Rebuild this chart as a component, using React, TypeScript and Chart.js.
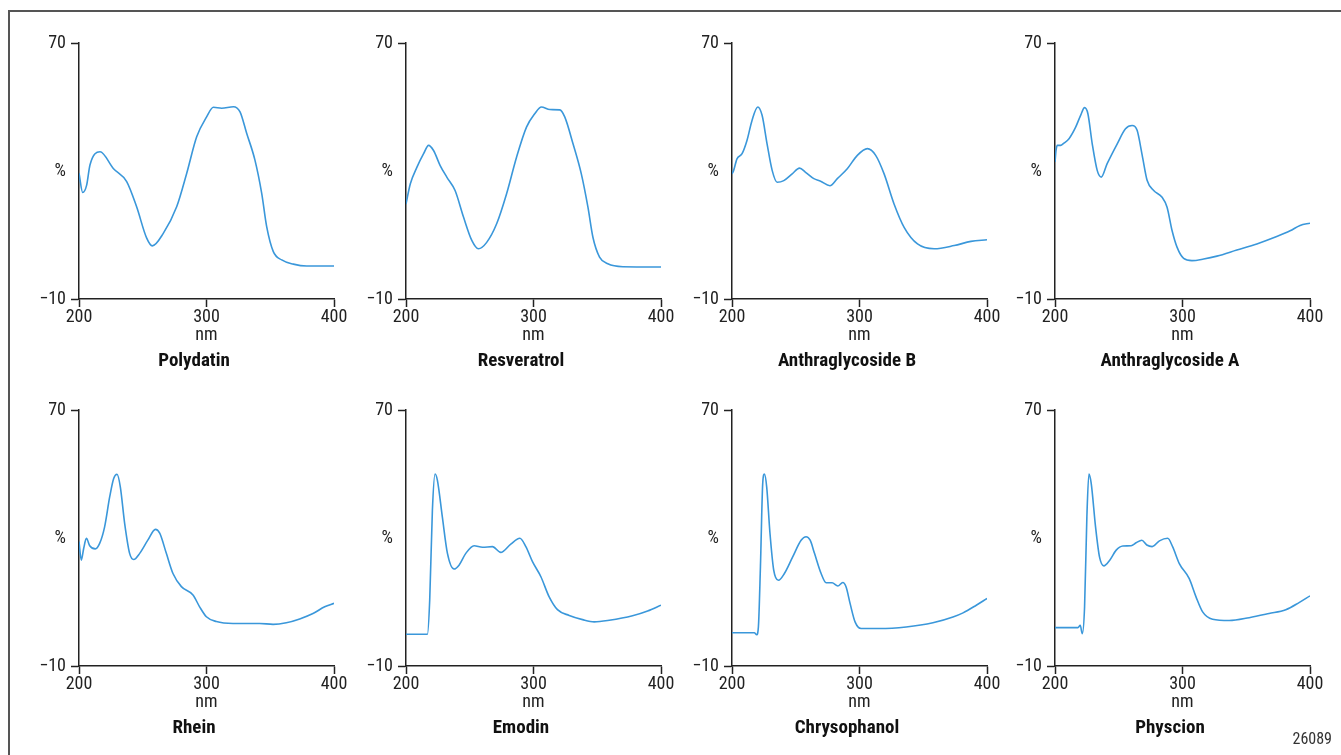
import React, { useEffect, useRef } from "react";
import { Chart, registerables } from "chart.js";

Chart.register(...registerables);

// ---- data ----
const compoundNames = [
  "Polydatin", "Resveratrol", "Anthraglycoside B", "Anthraglycoside A",
  "Rhein", "Emodin", "Chrysophanol", "Physcion",
];

const polydatinNm = [200, 202.9, 206, 208.6, 216.5, 226.9, 237.4, 245.2, 253.1, 257.5, 266.1, 276.6, 284.5, 292.3, 300.2, 305.4, 311.9, 321.1, 326.3, 331.5, 338, 343.3, 347.2, 352.4, 359, 368.1, 378.6, 400];
const polydatinPct = [29.3, 23.3, 25.6, 31.9, 36.0, 30.8, 26.7, 18.8, 9.0, 6.6, 10.5, 18.8, 29.3, 40.7, 47.0, 49.9, 49.6, 50.1, 48.5, 41.8, 33.4, 23.0, 12.6, 4.8, 2.2, 0.9, 0.3, 0.3];

const resveratrolNm = [200, 203.4, 208.6, 213.8, 217.7, 221.6, 226.8, 232.0, 238.5, 245.1, 251.6, 256.8, 263.3, 271.1, 278.9, 286.7, 294.5, 301.0, 306.2, 312.8, 320.6, 324.5, 331.0, 337.5, 342.7, 346.6, 351.8, 358.3, 370.1, 400];
const resveratrolPct = [19.7, 26.0, 31.2, 35.4, 38.0, 36.4, 31.7, 28.1, 23.9, 15.6, 8.3, 5.7, 7.7, 13.5, 22.9, 34.3, 43.7, 47.9, 50.0, 49.2, 49.1, 46.9, 38.5, 29.1, 18.7, 9.3, 3.1, 1.0, 0.1, 0.0];

const anthraBNm = [200, 201.3, 203.9, 207.9, 211.8, 215.7, 220.2, 223.6, 227.5, 231.5, 235.4, 240.6, 247.2, 253.0, 257.7, 264.2, 269.5, 276.8, 282.6, 290.4, 298.3, 306.2, 312.7, 319.3, 327.1, 335.0, 345.5, 358.6, 374.3, 387.4, 400];
const anthraBPct = [29.1, 30.2, 33.8, 35.4, 39.6, 45.8, 50.0, 47.4, 38.5, 30.2, 26.5, 27.0, 29.1, 30.9, 29.6, 27.6, 26.8, 25.4, 27.6, 30.7, 34.9, 37.0, 34.9, 29.1, 19.7, 12.4, 7.2, 5.7, 6.7, 8.0, 8.5];

const anthraANm = [200, 200.8, 201.8, 204.4, 207.0, 211.0, 216.2, 220.1, 223.2, 225.8, 229.2, 233.1, 236.3, 240.9, 248.8, 255.3, 260.5, 264.4, 268.4, 272.3, 277.4, 284.0, 287.9, 291.8, 295.7, 300.9, 307.4, 316.6, 327.0, 342.6, 358.3, 373.9, 384.4, 392.2, 400];
const anthraAPct = [32.8, 36.4, 38.0, 38.0, 38.7, 40.1, 43.7, 47.4, 49.8, 47.9, 38.5, 30.2, 28.1, 32.3, 38.5, 43.2, 44.2, 42.7, 34.9, 27.0, 23.9, 21.8, 18.7, 11.4, 6.2, 2.7, 2.0, 2.5, 3.4, 5.3, 7.2, 9.5, 11.3, 13.0, 13.7];

const rheinNm = [200, 201.8, 203.7, 205.8, 208.4, 212.8, 216.2, 220.1, 224.1, 227.2, 229.8, 232.4, 235.8, 239.7, 242.9, 247.6, 254.1, 259.9, 263.3, 268.5, 273.7, 280.3, 289.4, 294.6, 299.9, 307.7, 320.8, 341.7, 352.2, 362.6, 373.1, 383.5, 392.7, 400];
const rheinPct = [28.9, 23.1, 26.8, 29.9, 27.6, 26.6, 28.3, 33.5, 42.9, 48.6, 49.9, 46.0, 34.6, 25.2, 23.3, 25.2, 29.4, 32.7, 31.5, 25.2, 18.9, 14.8, 12.2, 8.5, 5.4, 3.9, 3.3, 3.3, 3.0, 3.5, 4.7, 6.4, 8.5, 9.6];

const emodinNm = [200, 216.8, 218.6, 220.7, 222.8, 224.6, 228.5, 232.5, 237.7, 241.6, 246.9, 253.4, 260.0, 267.8, 274.3, 282.2, 289.3, 294.0, 299.2, 305.8, 312.3, 318.8, 328.0, 338.5, 347.6, 359.4, 377.7, 389.5, 400];
const emodinPct = [-0.1, -0.1, 10.6, 38.7, 50.0, 48.1, 36.6, 25.2, 20.3, 21.5, 25.2, 27.6, 27.1, 27.3, 25.5, 28.1, 29.9, 27.3, 22.6, 17.9, 11.6, 7.6, 5.8, 4.5, 3.8, 4.3, 5.7, 7.2, 9.0];

const chrysophanolNm = [200, 217.5, 219.4, 220.7, 222.3, 224.1, 225.4, 227.2, 229.8, 232.7, 236.4, 241.1, 247.6, 254.2, 258.1, 261.3, 264.7, 269.9, 273.8, 278.5, 283.0, 286.9, 289.5, 292.7, 296.6, 301.3, 315.7, 336.6, 357.6, 373.3, 381.2, 391.6, 400];
const chrysophanolPct = [0.4, 0.4, -0.2, 2.2, 21.0, 47.1, 50.0, 46.0, 31.4, 20.0, 16.8, 18.9, 24.1, 29.3, 30.4, 29.3, 25.2, 18.9, 16.0, 16.0, 15.0, 16.1, 14.7, 9.4, 3.7, 1.7, 1.7, 2.2, 3.5, 5.3, 6.6, 9.0, 11.1];

const physcionNm = [200, 218.0, 219.8, 221.4, 223.2, 225.0, 226.6, 228.4, 231.8, 234.9, 238.3, 242.8, 248.0, 253.2, 259.7, 263.6, 268.1, 272.0, 276.2, 281.9, 288.4, 292.3, 297.5, 305.3, 310.6, 315.8, 323.6, 336.6, 352.3, 367.9, 381.0, 391.4, 400];
const physcionPct = [2.0, 2.0, 2.7, 0.1, 8.5, 36.6, 50.0, 47.1, 33.5, 24.1, 21.3, 23.0, 26.2, 27.5, 27.6, 28.5, 29.3, 27.8, 27.3, 29.1, 29.9, 27.2, 22.0, 17.3, 11.6, 6.9, 4.6, 4.2, 5.1, 6.4, 7.6, 9.8, 11.9];

const xTickValues = [200, 300, 400];
const xTickLabels = ["200", "300", "400"];
const yTickValues = [-10, 30, 70];
const yTickLabels = ["\u221210", "%", "70"];
const xAxisTitle = "nm";
const figureCode = "26089";

const seriesNm = [polydatinNm, resveratrolNm, anthraBNm, anthraANm, rheinNm, emodinNm, chrysophanolNm, physcionNm];
const seriesPct = [polydatinPct, resveratrolPct, anthraBPct, anthraAPct, rheinPct, emodinPct, chrysophanolPct, physcionPct];

// ---- layout ----
const axisLefts = [79, 406, 732, 1055];
const axisTops = [43, 410];
const PAD_L = 10;
const Y_W = 45;
const PLOT_W = 255;
const PLOT_H = 256;
const PAD_R = 20;
const PAD_T = 20;
const X_H = 47;
const TITLE_H = 30;
const TITLE_DX = 115; // title centre, from the y axis
const TITLE_DY = 62; // title middle, below the x axis
const CANVAS_W = PAD_L + Y_W + PLOT_W + PAD_R;
const CANVAS_H = PAD_T + PLOT_H + X_H + TITLE_H;

const FONT = "'Liberation Sans Narrow', 'Arial Narrow', 'Roboto Condensed', 'DejaVu Sans Condensed', 'Liberation Sans', sans-serif";
const LINE_COLOR = "#3a97da";
const AXIS_COLOR = "#222";
const TEXT_COLOR = "#222";

const panelTitlePlugin = {
  id: "panelTitle",
  afterDraw(chart: any, _args: any, opts: any) {
    const { ctx, chartArea } = chart;
    ctx.save();
    ctx.font = `bold 19px ${FONT}`;
    ctx.fillStyle = "#111";
    ctx.textAlign = "center";
    ctx.textBaseline = "middle";
    ctx.fillText(opts.text, chartArea.left + TITLE_DX, chartArea.bottom + TITLE_DY);
    ctx.restore();
  },
};

function Panel({ index }: { index: number }) {
  const ref = useRef<HTMLCanvasElement | null>(null);
  const col = index % 4;
  const row = Math.floor(index / 4);
  const left = axisLefts[col] - PAD_L - Y_W;
  const top = axisTops[row] - PAD_T;

  useEffect(() => {
    if (!ref.current) return;
    const nm = seriesNm[index];
    const pct = seriesPct[index];
    const chart = new Chart(ref.current, {
      type: "line",
      data: {
        datasets: [
          {
            data: nm.map((x, i) => ({ x, y: pct[i] })),
            borderColor: LINE_COLOR,
            borderWidth: 1.6,
            pointRadius: 0,
            cubicInterpolationMode: "monotone",
            fill: false,
          },
        ],
      },
      plugins: [panelTitlePlugin],
      options: {
        responsive: false,
        animation: false,
        devicePixelRatio: 1,
        layout: { padding: { left: PAD_L, right: PAD_R, top: PAD_T, bottom: TITLE_H } },
        plugins: {
          legend: { display: false },
          tooltip: { enabled: false },
          title: { display: false },
          panelTitle: { text: compoundNames[index] },
        } as any,
        scales: {
          x: {
            type: "linear",
            min: 200,
            max: 400,
            afterBuildTicks: (s: any) => {
              s.ticks = xTickValues.map((v) => ({ value: v }));
            },
            afterFit: (s: any) => {
              s.height = X_H;
            },
            ticks: {
              padding: 0,
              color: TEXT_COLOR,
              font: { family: FONT, size: 18, lineHeight: 1.2 },
              maxRotation: 0,
              autoSkip: false,
              callback: (v: any) => xTickLabels[xTickValues.indexOf(Number(v))] ?? "",
            },
            grid: {
              drawOnChartArea: false,
              drawTicks: true,
              tickLength: 8,
              tickColor: AXIS_COLOR,
              tickWidth: 1.5,
            },
            border: { display: true, color: AXIS_COLOR, width: 1.5 },
            title: {
              display: true,
              text: xAxisTitle,
              color: TEXT_COLOR,
              font: { family: FONT, size: 18, lineHeight: 1.2 },
              padding: 0,
            },
          },
          y: {
            type: "linear",
            min: -10,
            max: 70,
            afterBuildTicks: (s: any) => {
              s.ticks = yTickValues.map((v) => ({ value: v }));
            },
            afterFit: (s: any) => {
              s.width = Y_W;
            },
            ticks: {
              padding: 5,
              color: TEXT_COLOR,
              font: { family: FONT, size: 18, lineHeight: 1.2 },
              autoSkip: false,
              callback: (v: any) => yTickLabels[yTickValues.indexOf(Number(v))] ?? "",
            },
            grid: {
              drawOnChartArea: false,
              drawTicks: true,
              tickLength: 8,
              tickWidth: 1.5,
              tickColor: (ctx: any) =>
                ctx.tick && ctx.tick.value === 30 ? "rgba(0,0,0,0)" : AXIS_COLOR,
            },
            border: { display: true, color: AXIS_COLOR, width: 1.5 },
          },
        },
      },
    });
    return () => chart.destroy();
  }, [index]);

  return (
    <canvas
      ref={ref}
      width={CANVAS_W}
      height={CANVAS_H}
      style={{ position: "absolute", left, top, width: CANVAS_W, height: CANVAS_H }}
    />
  );
}

export default function App() {
  return (
    <div
      style={{
        position: "absolute",
        left: 0,
        top: 0,
        width: 1341,
        height: 755,
        overflow: "hidden",
        background: "#fff",
      }}
    >
      <div
        style={{
          position: "absolute",
          left: 8,
          top: 10,
          width: 1400,
          height: 800,
          borderLeft: "2px solid #555",
          borderTop: "2px solid #555",
        }}
      />
      {compoundNames.map((_, i) => (
        <Panel key={i} index={i} />
      ))}
      <div
        style={{
          position: "absolute",
          right: 9,
          top: 729,
          fontFamily: FONT,
          fontSize: 16,
          color: "#333",
          lineHeight: "20px",
        }}
      >
        {figureCode}
      </div>
    </div>
  );
}
